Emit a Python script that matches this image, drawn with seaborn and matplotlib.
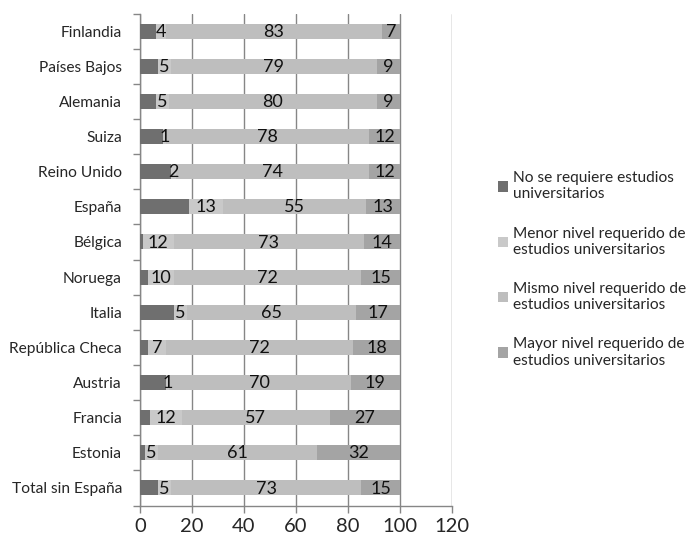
import matplotlib
matplotlib.use("Agg")
import matplotlib.pyplot as plt
import seaborn as sns
import pandas as pd
import numpy as np
from matplotlib.patches import Patch

# Survey data: share of graduates by level of studies required in their job (%)
paises = ["Finlandia", "Países Bajos", "Alemania", "Suiza", "Reino Unido", "España",
          "Bélgica", "Noruega", "Italia", "República Checa", "Austria", "Francia",
          "Estonia", "Total sin España"]
no_requiere = [6, 7, 6, 9, 12, 19, 1, 3, 13, 3, 10, 4, 2, 7]
menor_nivel = [4, 5, 5, 1, 2, 13, 12, 10, 5, 7, 1, 12, 5, 5]
mismo_nivel = [83, 79, 80, 78, 74, 55, 73, 72, 65, 72, 70, 57, 61, 73]
mayor_nivel = [7, 9, 9, 12, 12, 13, 14, 15, 17, 18, 19, 27, 32, 15]

series = ["No se requiere estudios\nuniversitarios",
          "Menor nivel requerido de\nestudios universitarios",
          "Mismo nivel requerido de\nestudios universitarios",
          "Mayor nivel requerido de\nestudios universitarios"]
colores = ["#6f6f6f", "#c9c9c9", "#bebebe", "#a4a4a4"]

sns.set_style("white")
plt.rcParams["font.family"] = ["Lato", "DejaVu Sans"]

valores = np.array([no_requiere, menor_nivel, mismo_nivel, mayor_nivel], dtype=float)
acumulado = np.cumsum(valores, axis=0)

fig = plt.figure(figsize=(6.94, 5.39), dpi=100)
ax = fig.add_axes([140 / 694, 1 - 505.5 / 539, (452 - 140) / 694, (505.5 - 13.5) / 539])

# Stacked bars: draw cumulative totals from the outermost layer inwards
for i in range(3, -1, -1):
    df = pd.DataFrame({"pais": paises, "valor": acumulado[i]})
    sns.barplot(data=df, x="valor", y="pais", orient="h", color=colores[i],
                width=0.43, saturation=1, linewidth=0, edgecolor="none",
                ax=ax, zorder=3)

# Value labels in the centre of each labelled segment
for i in range(1, 4):
    for j in range(len(paises)):
        centro = acumulado[i - 1][j] + valores[i][j] / 2
        ax.text(centro, j + 0.02, f"{int(valores[i][j])}", ha="center", va="center",
                fontsize=13, color="#111111", zorder=5)

ax.set_xlim(0, 120)
ax.set_ylim(len(paises) - 0.5, -0.5)
ax.set_xticks(range(0, 121, 20))
ax.set_xlabel("")
ax.set_ylabel("")
ax.tick_params(axis="x", labelsize=14.5, length=5, width=1, color="#868686",
               direction="out", pad=4, bottom=True)
ax.tick_params(axis="y", labelsize=11.2, length=0, pad=13)

# Category separator ticks on the vertical axis
ax.set_yticks(np.arange(-0.5, len(paises), 1), minor=True)
ax.tick_params(axis="y", which="minor", length=5, width=1, color="#868686",
               direction="out", left=True)

ax.grid(axis="x", color="#868686", linewidth=1, zorder=0)
ax.set_axisbelow(True)
for lado in ["top", "right"]:
    ax.spines[lado].set_visible(False)
for lado in ["left", "bottom"]:
    ax.spines[lado].set_color("#868686")
    ax.spines[lado].set_linewidth(1)

manijas = [Patch(facecolor=c, edgecolor="none") for c in colores]
fig.legend(manijas, series, loc="upper left", bbox_to_anchor=(492 / 694, 1 - 165 / 539),
           frameon=False, fontsize=11.2, handlelength=0.65, handleheight=0.65,
           handletextpad=0.3, labelspacing=1.62, borderaxespad=0)

fig.savefig("out.png", dpi=100)
